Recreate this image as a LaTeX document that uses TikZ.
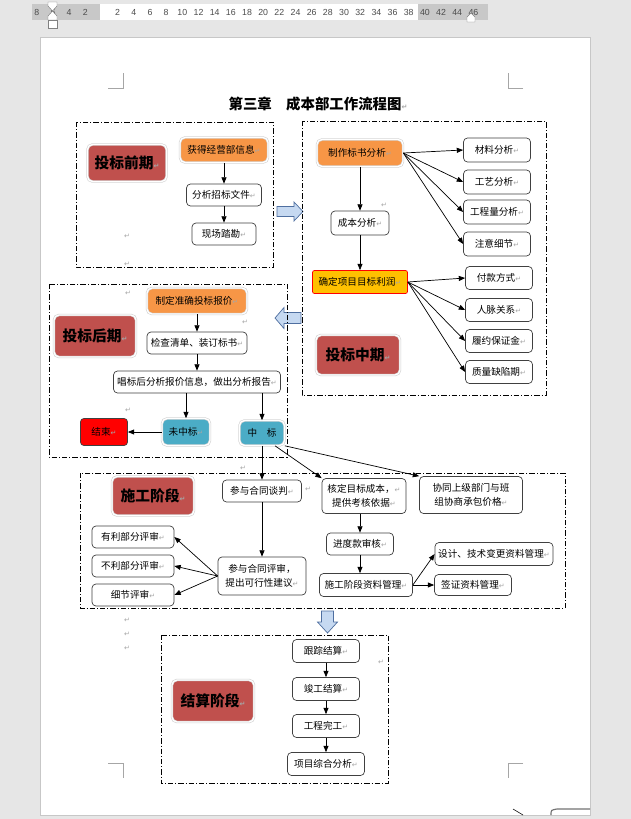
\documentclass[tikz,border=0pt]{standalone}
\usepackage{fontspec}
\setmainfont{Liberation Sans}
\newfontfamily\cjk{Noto Sans CJK SC}
\newfontfamily\symf{DejaVu Sans}
\usetikzlibrary{
    arrows.meta,
    positioning
}
\definecolor{pagegray}{HTML}{E6E6E6}
\definecolor{rulergray}{HTML}{C8C8C8}
\definecolor{stagered}{HTML}{C0504D}
\definecolor{boxorange}{HTML}{F79646}
\definecolor{boxteal}{HTML}{4BACC6}
\definecolor{boxgold}{HTML}{FFC000}
\definecolor{arrowblue}{HTML}{C6D9F1}
\definecolor{arrowedge}{HTML}{4F6FA0}
\newcommand{\pmk}{{\symf\color{black!35}\fontsize{6}{6}\selectfont ↵}}

\begin{document}
\begin{tikzpicture}[x=0.3mm, y=-0.3mm,
    >={Triangle[length=1.9mm,width=1.5mm]},
    every node/.style={font=\cjk\fontsize{8.2}{12}\selectfont, inner sep=0pt},
    sz/.style 2 args={minimum width=#1*0.3mm, minimum height=#2*0.3mm},
    pbox/.style={draw=black!75, fill=white, rounded corners=1.2mm, line width=0.6pt},
    glow/.style={draw=black!18, double=white, double distance=1.1pt, rounded corners=1.5mm, line width=0.5pt},
    stagebox/.style={glow, fill=stagered, font=\cjk\bfseries\fontsize{12.6}{14}\selectfont},
    obox/.style={glow, fill=boxorange},
    tbox/.style={glow, fill=boxteal},
    stageframe/.style={draw, line width=0.5pt, dash pattern=on 1.6mm off 0.6mm on 0.3mm off 0.6mm},
    blockarrow/.style={draw=arrowedge, fill=arrowblue, line width=0.6pt, line join=miter},
    retmark/.style={font=\symf\fontsize{6}{6}\selectfont, text=black!35},
    rulernum/.style={font=\rmfamily\fontsize{7.5}{8}\selectfont, text=black!70},
    marker/.style={draw=black!50, fill=white, line width=0.4pt}]
\useasboundingbox (0,0) rectangle (631,819);

% window and ruler
\fill[pagegray] (0,0) rectangle (631,819);
\fill[rulergray] (32,4) rectangle (100,20);
\fill[white] (100,4) rectangle (418,20);
\fill[rulergray] (418,4) rectangle (488,20);
\foreach \n [count=\i] in {2,4,...,46}
    \node[rulernum] (r\n) at ({101.5+16.17*\i},12) {\n};
\foreach \n [count=\i] in {2,4,6,8}
    \node[rulernum] (l\n) at ({101.5-16.17*\i},12) {\n};
\draw[marker] (48,2) -- (57,2) -- (57,6) -- (52.5,11) -- (57,16) -- (57,20) -- (48,20) -- (48,16) -- (52.5,11) -- (48,6) -- cycle;
\draw[marker] (48,20) rectangle (57,28);
\draw[marker] (467,22) -- (467,17) -- (471,13) -- (475,17) -- (475,22) -- cycle;

% page
\filldraw[fill=white, draw=black!22] (40,37) rectangle (590,815);
\draw[black!35, line width=0.5pt] (108,88) -- (123,88) -- (123,73);
\draw[black!35, line width=0.5pt] (523,88) -- (508,88) -- (508,73);
\draw[black!35, line width=0.5pt] (108,763) -- (123,763) -- (123,778);
\draw[black!35, line width=0.5pt] (523,763) -- (508,763) -- (508,778);
\draw[line width=0.5pt] (513,809) -- (523,815);
\draw[black!55, line width=1pt] (551,815) .. controls (551,810) .. (557,809) -- (590,809);

\node[font=\cjk\bfseries\fontsize{12.3}{14}\selectfont] (title) at (318,104) {第三章　成本部工作流程图\pmk};

% 投标前期
\draw[stageframe] (76,122) rectangle (273,267);
\node[stagebox, sz={79}{37}] (qianqi) at (127,163) {投标前期\pmk};
\node[obox, sz={88}{25}] (huode) at (224,150) {获得经营部信息\pmk};
\node[pbox, sz={75}{22}] (fenxi) at (224,195) {分析招标文件\pmk};
\node[pbox, sz={64}{22}] (kancha) at (224,234) {现场踏勘\pmk};
\draw[line width=0.6pt]
(huode) edge[->] (fenxi)
(fenxi) edge[->] (kancha);

\draw[blockarrow] (277,206.5) -- (294,206.5) -- (294,202) -- (303,211.5) -- (294,221) -- (294,216.5) -- (277,216.5) -- cycle;

% 投标中期
\draw[stageframe] (302,121) rectangle (546,395);
\node[obox, sz={86}{27}] (zhizuo) at (360,153) {制作标书分析\pmk};
\node[pbox, sz={58}{24}] (chengben) at (360,223) {成本分析\pmk};
\node[draw=red, fill=boxgold, rounded corners=0.6mm, line width=0.6pt, sz={95}{23}] (lirun) at (360,282) {确定项目目标利润\pmk};
\node[pbox, sz={67}{24}] (cailiao) at (497,150) {材料分析\pmk};
\node[pbox, sz={67}{24}] (gongyi) at (497,182) {工艺分析\pmk};
\node[pbox, sz={67}{24}] (gcl) at (497,212) {工程量分析\pmk};
\node[pbox, sz={67}{24}] (xijie) at (497,244) {注意细节\pmk};
\node[pbox, sz={67}{23}] (fukuan) at (499,278) {付款方式\pmk};
\node[pbox, sz={67}{23}] (renmai) at (499,310) {人脉关系\pmk};
\node[pbox, sz={67}{23}] (lvyue) at (499,341) {履约保证金\pmk};
\node[pbox, sz={67}{23}] (zhiliang) at (499,372) {质量缺陷期\pmk};
\node[stagebox, sz={84}{40}] (zhongqi) at (358,355) {投标中期\pmk};
\draw[line width=0.6pt]
(zhizuo) edge[->] (chengben)
(chengben) edge[->] (lirun)
(zhizuo.east) edge[->] (cailiao.west)
(zhizuo.east) edge[->] (gongyi.west)
(zhizuo.east) edge[->] (gcl.west)
(zhizuo.east) edge[->] (xijie.west)
(lirun.east) edge[->] (fukuan.west)
(lirun.east) edge[->] (renmai.west)
(lirun.east) edge[->] (lvyue.west)
(lirun.east) edge[->] (zhiliang.west);

\draw[blockarrow] (301,312.5) -- (284,312.5) -- (284,307.5) -- (275,318) -- (284,328.5) -- (284,323.5) -- (301,323.5) -- cycle;

% 投标后期
\draw[stageframe] (49,284) rectangle (287,457);
\node[obox, sz={100}{26}] (baojia) at (197,301) {制定准确投标报价\pmk};
\node[stagebox, sz={82}{42}] (houqi) at (95,336) {投标后期\pmk};
\node[pbox, sz={100}{22}] (jiancha) at (197,343) {检查清单、装订标书\pmk};
\node[pbox, sz={167}{22}] (baogao) at (197,382) {唱标后分析报价信息，做出分析报告\pmk};
\node[draw=black!75, fill=red, rounded corners=1mm, line width=0.6pt, sz={47}{27}] (jieshu) at (104,432) {结束\pmk};
\node[tbox, sz={48}{27}] (weizhong) at (186,432) {未中标\pmk};
\node[tbox, sz={45}{25}] (zhongbiao) at (262,433) {中\quad 标};
\draw[line width=0.6pt]
(baojia) edge[->] (jiancha)
(jiancha) edge[->] (baogao)
(weizhong |- baogao.south) edge[->] (weizhong.north)
(zhongbiao |- baogao.south) edge[->] (zhongbiao.north)
(weizhong.west) edge[->] (jieshu.east);

% 施工阶段
\draw[stageframe] (80,473) rectangle (565,608);
\node[stagebox, sz={82}{39}] (shigong) at (153,496) {施工阶段\pmk};
\node[pbox, sz={79}{22}] (tanpan) at (262,491) {参与合同谈判\pmk};
\node[pbox, sz={84}{35}, align=center] (heding) at (364,496) {核定目标成本，\pmk\\提供考核依据\pmk};
\node[pbox, sz={103}{37}, align=center] (xietong) at (471,495) {协同上级部门与班\\组协商承包价格\pmk};
\node[pbox, sz={67}{22}] (jindu) at (360,544) {进度款审核\pmk};
\node[pbox, sz={93}{23}] (ziliao) at (366,585) {施工阶段资料管理\pmk};
\node[pbox, sz={118}{23}] (biangeng) at (494,554) {设计、技术变更资料管理\pmk};
\node[pbox, sz={77}{21}] (qianzheng) at (473,585) {签证资料管理\pmk};
\node[pbox, sz={82}{22}] (youli) at (133,537) {有利部分评审\pmk};
\node[pbox, sz={82}{22}] (buli) at (133,566) {不利部分评审\pmk};
\node[pbox, sz={82}{22}] (xjps) at (133,595) {细节评审\pmk};
\node[pbox, sz={88}{38}, align=center] (pingshen) at (262,576) {参与合同评审，\\提出可行性建议\pmk};
\draw[line width=0.6pt]
(zhongbiao) edge[->] (tanpan)
([xshift=3.9mm]zhongbiao.south) edge[->] (heding.north west)
(zhongbiao.south east) edge[->] (xietong.north west)
(tanpan) edge[->] (pingshen)
(pingshen.west) edge[->] (youli.east)
(pingshen.west) edge[->] (buli.east)
(pingshen.west) edge[->] (xjps.east)
(jindu |- heding.south) edge[->] (jindu.north)
(jindu.south) edge[->] (jindu.south |- ziliao.north)
(ziliao.east) edge[->] (biangeng.west)
(ziliao.east) edge[->] (qianzheng.west);

\draw[blockarrow] (321.5,611) -- (333.5,611) -- (333.5,622) -- (337.5,622) -- (327.5,633) -- (317.5,622) -- (321.5,622) -- cycle;

% 结算阶段
\draw[stageframe] (161,635) rectangle (388,783);
\node[pbox, sz={67}{23}] (genzong) at (326,651) {跟踪结算\pmk};
\node[pbox, sz={67}{23}] (jungong) at (326,689) {竣工结算\pmk};
\node[pbox, sz={67}{23}] (wangong) at (326,726) {工程完工\pmk};
\node[pbox, sz={77}{23}] (zonghe) at (326,764) {项目综合分析\pmk};
\node[stagebox, sz={82}{42}] (jiesuan) at (213,701) {结算阶段\pmk};
\draw[line width=0.6pt]
(genzong) edge[->] (jungong)
(jungong) edge[->] (wangong)
(wangong) edge[->] (zonghe);

% paragraph marks
\foreach \px/\py [count=\k] in {127/236, 127/264, 384/205, 128/293, 245/322, 128/410, 243/468, 308/489, 127/620, 127/634, 127/648, 381/662}
    \node[retmark] (ret\k) at (\px,\py) {↵};
\end{tikzpicture}
\end{document}
